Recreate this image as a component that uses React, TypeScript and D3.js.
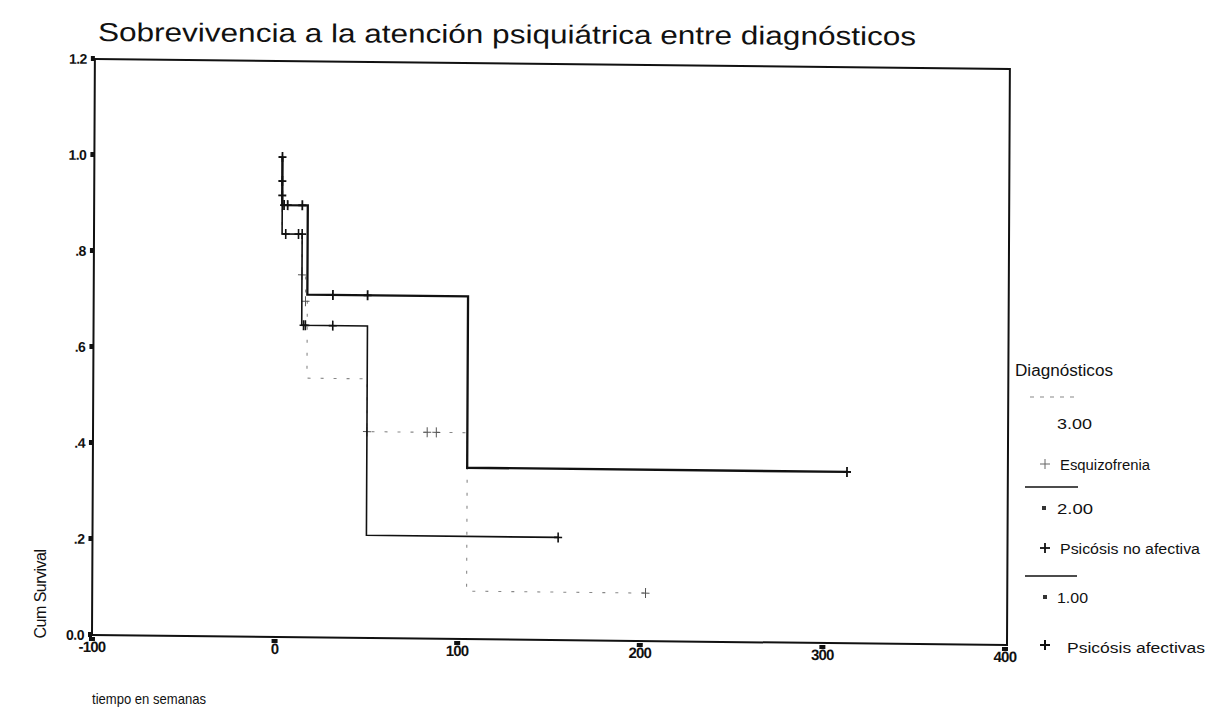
import React from "react";
import * as d3 from "d3";

// ---- data ----
const xTicks = [-100, 0, 100, 200, 300, 400];
const xTickLabels = ["-100", "0", "100", "200", "300", "400"];
const yTicks = [0, 0.2, 0.4, 0.6, 0.8, 1.0, 1.2];
const yTickLabels = ["0.0", ".2", ".4", ".6", ".8", "1.0", "1.2"];

// Psicósis afectivas (1.00)
const afStart = 3;
const afEventTimes = [3, 17, 105];
const afSurv = [0.9, 0.714, 0.357];
const afEnd = 313;
const afCensorT = [3, 3, 3, 4, 6, 14, 31, 50, 313];
const afCensorS = [1.0, 0.95, 0.92, 0.9, 0.9, 0.9, 0.714, 0.714, 0.357];

// Psicósis no afectiva (2.00)
const naStart = 3;
const naEventTimes = [3, 14, 50];
const naSurv = [0.84, 0.65, 0.214];
const naEnd = 155;
const naCensorT = [5, 12, 14, 15, 16, 31, 155];
const naCensorS = [0.84, 0.84, 0.84, 0.65, 0.65, 0.65, 0.214];

// Esquizofrenia (3.00)
const esStart = 3;
const esEventTimes = [3, 14, 16, 17, 50, 105];
const esSurv = [0.84, 0.755, 0.7, 0.54, 0.43, 0.1];
const esEnd = 203;
const esCensorT = [14, 16, 50, 83, 88, 203];
const esCensorS = [0.755, 0.7, 0.43, 0.43, 0.43, 0.1];

const W = 1227;
const H = 726;

const x = d3.scaleLinear().domain([-100, 400]).range([92, 1005]);
const y = d3.scaleLinear().domain([0, 1.2]).range([635, 59]);

function stepPoints(start: number, times: number[], surv: number[], end: number): [number, number][] {
  const pts: [number, number][] = [[start, 1.0]];
  let s = 1.0;
  times.forEach((t, i) => {
    pts.push([t, s]);
    s = surv[i];
    pts.push([t, s]);
  });
  pts.push([end, s]);
  return pts;
}

const line = d3
  .line<[number, number]>()
  .x((d) => x(d[0]))
  .y((d) => y(d[1]));

const FONT = "'Liberation Sans', Arial, sans-serif";

function Censor({ t, s, color, w }: { t: number; s: number; color: string; w: number }) {
  const cx = x(t);
  const cy = y(s);
  return (
    <g stroke={color} strokeWidth={w}>
      <line x1={cx} x2={cx} y1={cy - 5} y2={cy + 5} />
      <line x1={cx - 4} x2={cx + 4} y1={cy} y2={cy} />
    </g>
  );
}

export default function App() {
  const af = stepPoints(afStart, afEventTimes, afSurv, afEnd);
  const na = stepPoints(naStart, naEventTimes, naSurv, naEnd);
  const es = stepPoints(esStart, esEventTimes, esSurv, esEnd);

  const x0 = x(-100);
  const x1 = 1007;
  const y0 = y(0);
  const y1 = y(1.2);

  return (
    <svg
      width={W}
      height={H}
      style={{ position: "absolute", left: 0, top: 0, background: "#fff" }}
      fontFamily={FONT}
    >
      <rect x={0} y={0} width={W} height={H} fill="#fff" />
      {/* title */}
      <text
        x={98}
        y={41}
        fontSize={26}
        fill="#111"
        textLength={818}
        lengthAdjust="spacingAndGlyphs"
        transform="rotate(0.3 98 41)"
      >
        Sobrevivencia a la atención  psiquiátrica entre diagnósticos
      </text>

      {/* plot area with slight scan skew */}
      <g transform="matrix(1, 0.011, -0.005, 1, 3.175, -1.012)">
        <rect x={x0} y={y1} width={x1 - x0} height={y0 - y1} fill="none" stroke="#111" strokeWidth={2} />
        {/* y ticks */}
        {yTicks.map((v, i) => (
          <g key={"yt" + i}>
            <rect x={x0 - 4} y={y(v) - 3} width={4} height={5} fill="#111" />
            <text
              x={x0 - 8}
              y={y(v) + 5}
              fontSize={14}
              fontWeight="bold"
              textAnchor="end"
              fill="#111"
              letterSpacing={-0.5}
            >
              {yTickLabels[i]}
            </text>
          </g>
        ))}
        {/* x ticks */}
        {xTicks.map((v, i) => (
          <g key={"xt" + i}>
            <rect x={x(v) - 3} y={y0 + 2} width={6} height={4} fill="#111" />
            <text
              x={x(v)}
              y={y0 + 17}
              fontSize={15}
              fontWeight="bold"
              textAnchor="middle"
              fill="#111"
              letterSpacing={-0.8}
            >
              {xTickLabels[i]}
            </text>
          </g>
        ))}

        {/* Esquizofrenia - dashed gray */}
        <path d={line(es) || ""} fill="none" stroke="#888" strokeWidth={1.1} strokeDasharray="3 10" />
        {esCensorT.map((t, i) => (
          <Censor key={"ec" + i} t={t} s={esCensorS[i]} color="#555" w={1} />
        ))}

        {/* Psicosis no afectiva - thin solid */}
        <path d={line(na) || ""} fill="none" stroke="#111" strokeWidth={1.6} />
        {naCensorT.map((t, i) => (
          <Censor key={"nc" + i} t={t} s={naCensorS[i]} color="#111" w={1.6} />
        ))}

        {/* Psicosis afectivas - thick solid */}
        <path d={line(af) || ""} fill="none" stroke="#111" strokeWidth={2.3} />
        {afCensorT.map((t, i) => (
          <Censor key={"ac" + i} t={t} s={afCensorS[i]} color="#111" w={1.8} />
        ))}
      </g>

      {/* axis titles */}
      <text
        x={0}
        y={0}
        fontSize={16}
        fill="#111"
        textAnchor="middle"
        letterSpacing={-0.5}
        transform="translate(46 594) rotate(-90)"
      >
        Cum Survival
      </text>
      <text x={92} y={704} fontSize={15} fill="#111" textLength={114} lengthAdjust="spacingAndGlyphs">
        tiempo en semanas
      </text>

      {/* legend */}
      <g fill="#111" fontSize={14}>
        <text x={1015} y={376} fontSize={16} textLength={98} lengthAdjust="spacingAndGlyphs">
          Diagnósticos
        </text>
        <line x1={1030} x2={1080} y1={397} y2={397} stroke="#888" strokeWidth={1.2} strokeDasharray="4 6" />
        <text x={1057} y={429} fontSize={15} textLength={35} lengthAdjust="spacingAndGlyphs">3.00</text>
        <g stroke="#666" strokeWidth={1}>
          <line x1={1045} x2={1045} y1={459} y2={469} />
          <line x1={1040} x2={1050} y1={464} y2={464} />
        </g>
        <text x={1060} y={470} fontSize={14} textLength={90} lengthAdjust="spacingAndGlyphs">Esquizofrenia</text>
        <line x1={1025} x2={1078} y1={487} y2={487} stroke="#111" strokeWidth={1.5} />
        <rect x={1042} y={506} width={4} height={4} fill="#333" />
        <text x={1057} y={514} fontSize={15} textLength={36} lengthAdjust="spacingAndGlyphs">2.00</text>
        <g stroke="#111" strokeWidth={1.8}>
          <line x1={1045} x2={1045} y1={543} y2={553} />
          <line x1={1040} x2={1050} y1={548} y2={548} />
        </g>
        <text x={1060} y={554} fontSize={14} textLength={140} lengthAdjust="spacingAndGlyphs">Psicósis no afectiva</text>
        <line x1={1025} x2={1077} y1={576} y2={576} stroke="#111" strokeWidth={1.5} />
        <rect x={1043} y={595} width={4} height={4} fill="#333" />
        <text x={1057} y={603} fontSize={15} textLength={31} lengthAdjust="spacingAndGlyphs">1.00</text>
        <g stroke="#111" strokeWidth={2}>
          <line x1={1045} x2={1045} y1={640} y2={650} />
          <line x1={1040} x2={1050} y1={645} y2={645} />
        </g>
        <text x={1067} y={653} fontSize={14} textLength={138} lengthAdjust="spacingAndGlyphs">Psicósis afectivas</text>
      </g>
    </svg>
  );
}
